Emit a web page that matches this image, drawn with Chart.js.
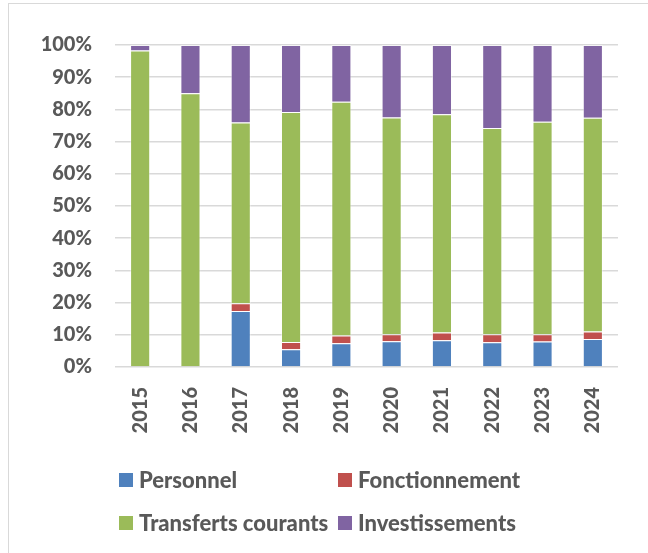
<!DOCTYPE html>
<html>
<head>
<meta charset="utf-8">
<script src="https://cdn.jsdelivr.net/npm/chart.js@4"></script>
<style>
  body { margin: 0; background: #fff; }
  #frame { position: absolute; left: 8px; top: 3px; width: 700px; height: 600px; border: 1px solid #d9d9d9; }
  #wrap { position: absolute; left: 0; top: 0; width: 648px; height: 553px; }
</style>
</head>
<body>
<div id="frame"></div>
<div id="wrap"><canvas id="depensesChart" width="648" height="553"></canvas></div>
<script>
//years on the x axis
const years = ['2015', '2016', '2017', '2018', '2019', '2020', '2021', '2022', '2023', '2024'];

//share of each spending type per year (in %)
const personnel = [0, 0, 17.4, 5.5, 7.4, 8.0, 8.3, 7.7, 7.9, 8.7];
const fonctionnement = [0, 0, 2.4, 2.3, 2.4, 2.2, 2.4, 2.5, 2.3, 2.3];
const transferts = [98.3, 85.0, 56.1, 71.4, 72.6, 67.3, 67.8, 64.0, 66.0, 66.4];
const investissements = [1.7, 15.0, 24.1, 20.8, 17.6, 22.5, 21.5, 25.8, 23.8, 22.6];

const yTicks = [0, 10, 20, 30, 40, 50, 60, 70, 80, 90, 100];

const labelFont = { family: 'Lato', weight: '900', size: 20 };
const textColor = '#595959';

function makeSet(label, data, color) {
    return {
        label: label,
        data: data,
        backgroundColor: color,
        borderColor: 'rgba(255,255,255,0.45)',
        borderWidth: 1,
        categoryPercentage: 0.8,
        barPercentage: 0.5
    };
}

//legend in a 2x2 grid under the axis
const gridLegend = {
    id: 'gridLegend',
    afterDraw(chart) {
        const c = chart.ctx;
        const cols = [119, 338];
        const rows = [480, 523];
        c.save();
        c.font = '900 22px Lato';
        c.textBaseline = 'middle';
        chart.data.datasets.forEach((ds, i) => {
            const x = cols[i % 2];
            const y = rows[Math.floor(i / 2)];
            c.fillStyle = ds.backgroundColor;
            c.fillRect(x, y - 7, 14, 14);
            c.fillStyle = textColor;
            c.fillText(ds.label, x + 20, y + 1);
        });
        c.restore();
    }
};

const ctx = document.getElementById('depensesChart');

new Chart(ctx, {
    type: 'bar',
    data: {
        labels: years,
        datasets: [
            makeSet('Personnel', personnel, '#4F81BD'),
            makeSet('Fonctionnement', fonctionnement, '#C0504D'),
            makeSet('Transferts courants', transferts, '#9BBB59'),
            makeSet('Investissements', investissements, '#8064A2')
        ]
    },
    options: {
        responsive: false,
        animation: false,
        layout: { padding: { left: 0, right: 30, top: 45, bottom: 0 } },
        plugins: {
            legend: { display: false },
            tooltip: { enabled: false }
        },
        scales: {
            x: {
                stacked: true,
                grid: { display: false },
                border: { display: false },
                ticks: {
                    font: labelFont,
                    color: textColor,
                    minRotation: 90,
                    maxRotation: 90,
                    padding: 12
                },
                afterFit(scale) { scale.height = 186; }
            },
            y: {
                stacked: true,
                min: 0,
                max: 100,
                afterBuildTicks(scale) { scale.ticks = yTicks.map(v => ({ value: v })); },
                grid: { color: '#d9d9d9', lineWidth: 1.5, drawTicks: false },
                border: { display: false },
                ticks: {
                    font: labelFont,
                    color: textColor,
                    padding: 23,
                    callback: v => v + '%'
                },
                afterFit(scale) { scale.width = 115; }
            }
        }
    },
    plugins: [gridLegend]
});
</script>
</body>
</html>
